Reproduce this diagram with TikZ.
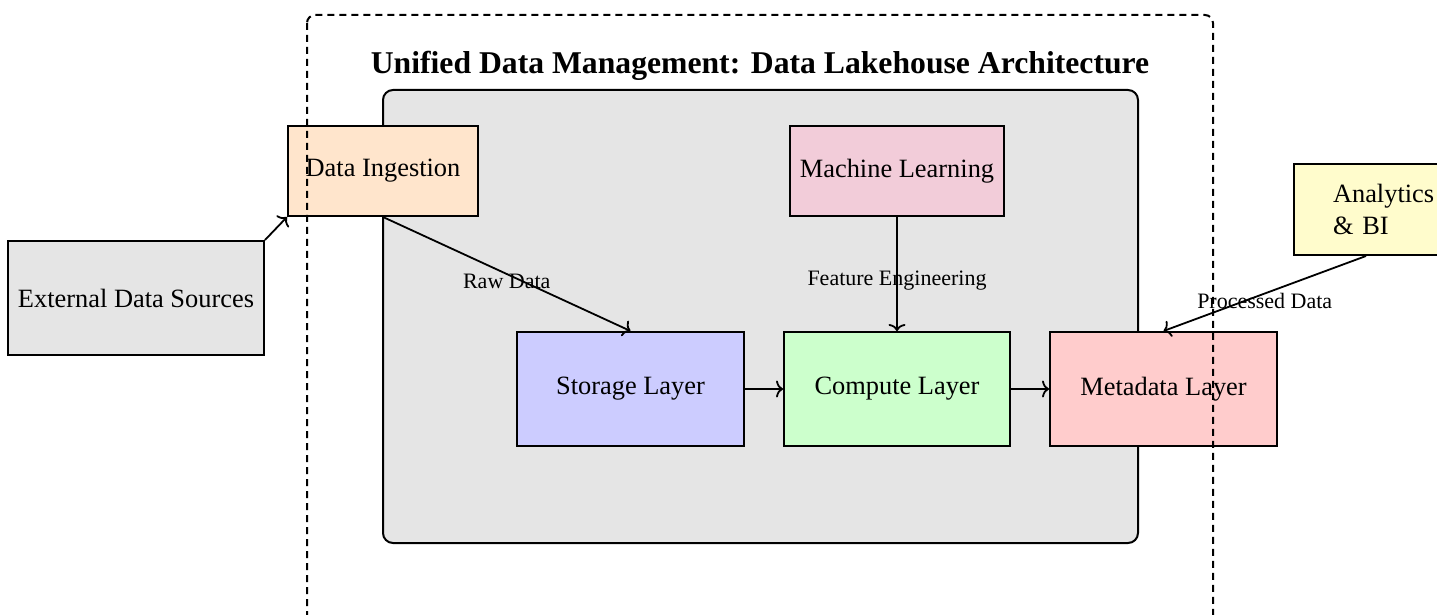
\documentclass[tikz,border=0pt]{standalone}
\usepackage{fontspec}
\setmainfont{Liberation Serif}
\usetikzlibrary{arrows.meta}
\begin{document}
\begin{tikzpicture}[x=0.5pt,y=-0.5pt,
  box/.style={draw=black,line width=1pt,inner sep=2pt,font=\fontsize{13.2}{15.84}\selectfont},
  conn/.style={-{To[length=3.5pt,width=8.5pt]},line width=0.9pt},
  lbl/.style={font=\fontsize{11}{13.2}\selectfont,midway,yshift=-3.5pt}]
\clip (0,0) rectangle (1437,615);
% inner gray area
\path[draw=black,line width=1pt,fill=black!10,rounded corners=5pt] (383,90) rectangle (1138,543);
\node (title) at (760,66) {\fontsize{15.84}{19}\selectfont\bfseries Unified Data Management: Data Lakehouse Architecture};
% nodes
\node[box,fill=orange!20,minimum width=95pt,minimum height=45pt] (ing) at (383,171) {Data Ingestion};
\node[box,fill=black!10,minimum width=128pt,minimum height=57pt] (ext) at (136,298) {External Data Sources};
\node[box,fill=purple!20,minimum width=107pt,minimum height=45pt] (ml) at (897,171) {Machine Learning};
\node[box,fill=yellow!20,minimum width=72pt,minimum height=45.5pt,text width=33pt,align=left] (ana) at (1366,209.5) {\mbox{Analytics}\\\& BI};
\node[box,fill=blue!20,minimum width=113.5pt,minimum height=57pt] (sto) at (630.5,389) {Storage Layer};
\node[box,fill=green!20,minimum width=113pt,minimum height=57pt] (com) at (897,389) {Compute Layer};
\node[box,fill=red!20,minimum width=113.5pt,minimum height=57pt] (met) at (1163.5,389) {Metadata Layer};
% connectors
\draw[conn] (ext.north east) -- (ing.south west);
\draw[conn] (ing.south) -- node[lbl] {Raw Data} (sto.north);
\draw[conn] (ml.south) -- node[lbl] {Feature Engineering} (com.north);
\draw[conn] (sto.east) -- (com.west);
\draw[conn] (com.east) -- (met.west);
\draw[conn] (ana.south) -- node[lbl] {Processed Data} (met.north);
% outer dashed boundary
\draw[dash pattern=on 3.5pt off 2.5pt,line width=1pt,rounded corners=4pt] (307,15) rectangle (1213,650);
\end{tikzpicture}
\end{document}
